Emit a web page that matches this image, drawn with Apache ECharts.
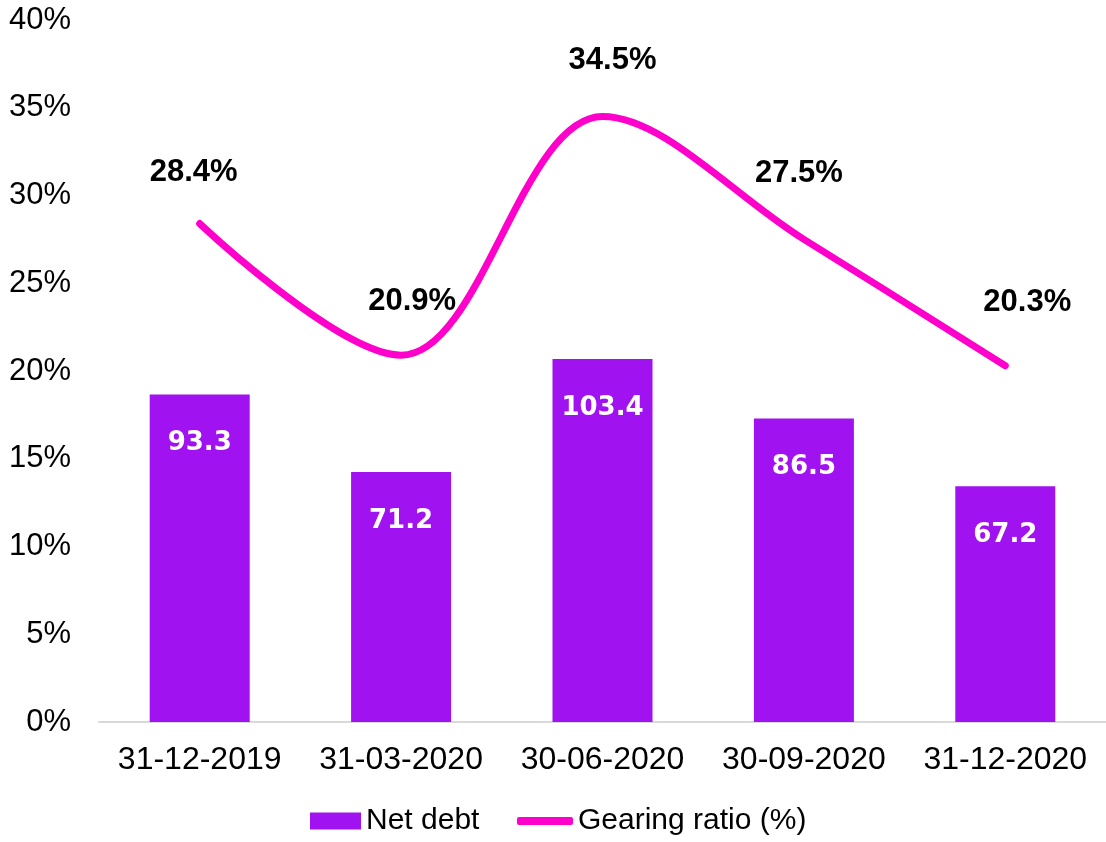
<!DOCTYPE html>
<html>
<head>
<meta charset="utf-8">
<script src="https://cdn.jsdelivr.net/npm/echarts@6/dist/echarts.min.js"></script>
<style>
  html, body { margin: 0; padding: 0; background: #fff; }
  #chart { width: 1106px; height: 842px; }
</style>
</head>
<body>
<div id="chart"></div>
<script>
const dates = ['31-12-2019', '31-03-2020', '30-06-2020', '30-09-2020', '31-12-2020']
const netDebt = [93.3, 71.2, 103.4, 86.5, 67.2]
const gearing = [28.4, 20.9, 34.5, 27.5, 20.3]
// small nudges so labels sit where the original put them
const lineLabelOffsets = [[-6, 0], [11, -2], [10, -5], [-5, -14], [22, -12]]

const font = '"Liberation Sans", Arial, sans-serif'
const purple = '#a112f0'
const pink = '#ff00cc'

const myChart = echarts.init(document.getElementById('chart'))

const legendText = { fontSize: 30, color: '#000', fontFamily: font }

const option = {
    animation: false,
    textStyle: { fontFamily: font },
    grid: {
        top: 20,
        bottom: 120,
        left: 99,
        width: 1009
    },
    legend: [{
        top: 801,
        left: 305,
        itemWidth: 51,
        itemHeight: 17,
        textStyle: legendText,
        data: [{ name: 'Net debt', icon: 'rect' }]
    }, {
        top: 801,
        left: 512,
        itemWidth: 56,
        itemHeight: 8,
        textStyle: legendText,
        data: [{ name: 'Gearing ratio (%)', icon: 'roundRect', itemStyle: { color: pink } }]
    }],
    xAxis: {
        type: 'category',
        data: dates,
        axisTick: { show: false },
        axisLine: { lineStyle: { color: '#d9d9d9', width: 2 } },
        axisLabel: { color: '#000', fontSize: 32, margin: 22, interval: 0, hideOverlap: false, fontFamily: font }
    },
    yAxis: [{
        type: 'value',
        min: 0,
        max: 40,
        interval: 5,
        splitLine: { show: false },
        axisLine: { show: false },
        axisTick: { show: false },
        axisLabel: { color: '#000', fontSize: 31, margin: 28, fontFamily: font, formatter: '{value}%' }
    }, {
        type: 'value',
        min: 0,
        max: 200,
        show: false,
        splitLine: { show: false }
    }],
    series: [{
        name: 'Net debt',
        type: 'bar',
        yAxisIndex: 1,
        barWidth: 100,
        data: netDebt,
        itemStyle: { color: purple },
        label: {
            show: true,
            position: 'insideTop',
            distance: 36,
            color: '#fff',
            fontWeight: 'bold',
            fontSize: 26,
            fontFamily: '"DejaVu Sans", sans-serif'
        }
    }, {
        name: 'Gearing ratio (%)',
        type: 'line',
        smooth: 0.35,
        symbol: 'circle',
        symbolSize: 2,
        data: gearing.map((v, i) => ({
            value: v,
            label: { offset: lineLabelOffsets[i] }
        })),
        lineStyle: { color: pink, width: 7, cap: 'round' },
        itemStyle: { color: pink },
        label: {
            show: true,
            position: 'top',
            distance: 35,
            color: '#000',
            fontWeight: 'bold',
            fontSize: 31,
            fontFamily: font,
            formatter: p => p.value + '%'
        }
    }]
}

myChart.setOption(option)
</script>
</body>
</html>
